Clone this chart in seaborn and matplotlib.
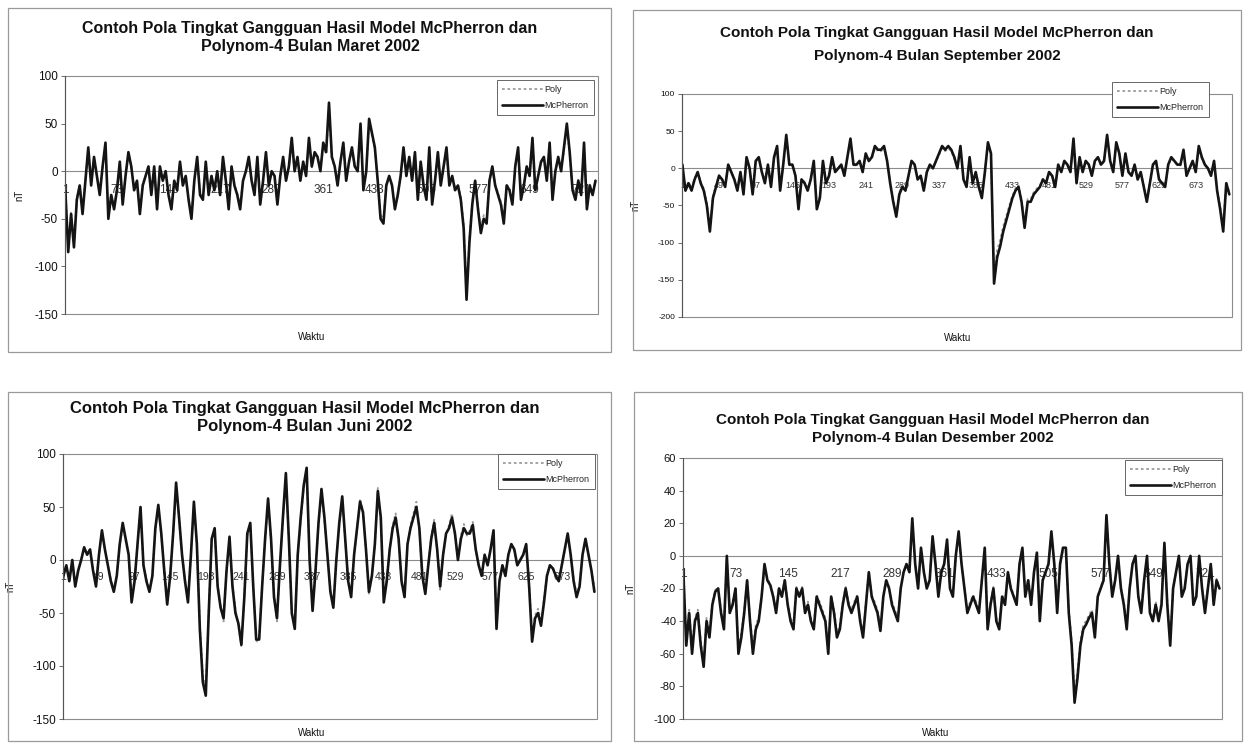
import matplotlib
matplotlib.use('Agg')
import matplotlib.pyplot as plt
from matplotlib.patches import Rectangle
import numpy as np
import pandas as pd
import seaborn as sns

W, H = 1247, 748
step = 4  # one reading every 4 hours, taken off the scanned charts

# ---- Maret 2002 (744 hours) ----
maret_mcpherron = [
    -20, -85, -45, -80, -30, -15, -45, -10, 25, -15,
    15, -5, -25, 5, 30, -50, -25, -40, -20, 10,
    -35, -5, 20, 5, -20, -10, -45, -15, -5, 5,
    -25, 5, -40, 5, -10, 0, -25, -40, -10, -20,
    10, -15, -5, -30, -50, -10, 15, -25, -30, 10,
    -25, -5, -20, 0, -25, 15, -10, -40, 5, -15,
    -25, -40, -10, 0, 15, -10, -25, 15, -35, -10,
    20, -15, 0, -5, -35, -5, 15, -10, 5, 35,
    0, 15, -10, 10, -5, 35, 5, 20, 15, 0,
    30, 20, 72, 15, 5, -15, 10, 30, -10, 10,
    25, 5, 0, 50, -20, 0, 55, 40, 25, -10,
    -50, -55, -15, -5, -15, -40, -25, -5, 25, -5,
    15, -10, 20, -30, 10, -15, -30, 25, -35, -10,
    20, -15, 5, 25, -15, -5, -20, -15, -30, -60,
    -135, -75, -35, -10, -40, -65, -50, -55, -10, 5,
    -15, -25, -35, -55, -15, -20, -35, 5, 25, -30,
    -15, 5, -5, 35, -20, -5, 10, 15, -10, 30,
    -30, 0, 15, 0, 25, 50, 20, -20, -30, -10,
    -25, 30, -40, -15, -25, -10]
maret_poly = [
    -18, -80, -42, -75, -28, -15, -40, -8, 22, -13,
    14, -5, -22, 5, 27, -45, -24, -38, -18, 9,
    -32, -5, 18, 5, -18, -10, -42, -14, -5, 4,
    -22, 4, -37, 4, -9, 0, -23, -37, -10, -18,
    9, -14, -5, -28, -46, -9, 13, -23, -28, 9,
    -23, -5, -18, 0, -23, 13, -9, -37, 4, -14,
    -23, -37, -9, 0, 13, -9, -23, 13, -32, -9,
    18, -14, 0, -5, -32, -5, 13, -9, 4, 32,
    0, 13, -9, 9, -5, 32, 4, 18, 13, 0,
    27, 18, 66, 13, 4, -14, 9, 27, -9, 9,
    22, 4, 0, 46, -18, 0, 50, 37, 22, -9,
    -46, -50, -14, -5, -14, -37, -23, -5, 22, -5,
    13, -9, 18, -27, 9, -14, -27, 22, -32, -9,
    18, -14, 4, 22, -14, -5, -18, -14, -27, -55,
    -125, -70, -32, -9, -37, -60, -46, -50, -9, 4,
    -14, -23, -32, -50, -14, -18, -32, 4, 22, -27,
    -14, 4, -5, 32, -18, -5, 9, 13, -9, 27,
    -27, 0, 13, 0, 22, 46, 18, -18, -27, -9,
    -23, 27, -37, -14, -23, -9]

# ---- September 2002 (720 hours) ----
sept_mcpherron = [
    5, -30, -20, -30, -15, -5, -20, -30, -50, -85,
    -40, -25, -10, -15, -25, 5, -5, -15, -30, -5,
    -35, 15, 0, -35, 10, 15, -5, -20, 5, -25,
    15, 30, -30, 5, 45, 5, 5, -10, -55, -15,
    -20, -30, -15, 10, -55, -40, 10, -20, -10, 15,
    -5, 0, 5, -10, 15, 40, 5, 5, 10, -5,
    20, 10, 15, 30, 25, 25, 30, 10, -20, -45,
    -65, -35, -25, -30, -10, 10, 5, -15, -10, -30,
    -5, 5, 0, 10, 20, 30, 25, 30, 25, 15,
    0, 30, -15, -25, 15, -20, -5, -25, -40, -5,
    35, 20, -155, -120, -105, -85, -70, -55, -40, -30,
    -25, -45, -80, -45, -45, -35, -30, -25, -15, -20,
    -5, -10, -25, 5, -5, 10, 5, -5, 40, -20,
    15, -5, 10, 5, -10, 10, 15, 5, 10, 45,
    10, -5, 35, 20, -10, 20, -5, -10, 5, -15,
    -5, -25, -45, -20, 5, 10, -15, -20, -25, 5,
    15, 10, 5, 5, 25, -10, 0, 10, -5, 30,
    15, 5, 0, -10, 10, -30, -55, -85, -20, -35]
sept_poly = [
    4, -27, -18, -27, -14, -5, -18, -27, -46, -78,
    -37, -23, -9, -14, -23, 4, -5, -14, -27, -5,
    -32, 13, 0, -32, 9, 13, -5, -18, 4, -23,
    13, 27, -27, 4, 40, 4, 4, -9, -50, -14,
    -18, -27, -14, 9, -50, -37, 9, -18, -9, 13,
    -5, 0, 4, -9, 13, 36, 4, 4, 9, -5,
    18, 9, 13, 27, 23, 23, 27, 9, -18, -41,
    -60, -32, -23, -27, -9, 9, 4, -14, -9, -27,
    -5, 4, 0, 9, 18, 27, 23, 27, 23, 13,
    0, 27, -14, -23, 13, -18, -5, -23, -37, -5,
    32, 18, -142, -110, -96, -78, -64, -50, -37, -27,
    -23, -41, -73, -41, -41, -32, -27, -23, -14, -18,
    -5, -9, -23, 4, -5, 9, 4, -5, 36, -18,
    13, -5, 9, 4, -9, 9, 13, 4, 9, 41,
    9, -5, 32, 18, -9, 18, -5, -9, 4, -14,
    -5, -23, -41, -18, 4, 9, -14, -18, -23, 4,
    13, 9, 4, 4, 23, -9, 0, 9, -5, 27,
    13, 4, 0, -9, 9, -27, -50, -78, -18, -32]

# ---- Juni 2002 (720 hours) ----
juni_mcpherron = [
    -15, -5, -20, 0, -25, -10, 0, 12, 5, 10,
    -10, -25, 5, 28, 10, -5, -20, -30, -15, 15,
    35, 20, 5, -40, -20, 15, 50, -5, -20, -30,
    -15, 30, 52, 25, -10, -42, -15, 25, 73, 40,
    5, -20, -40, 5, 55, 15, -65, -115, -128, -50,
    20, 30, -25, -45, -55, -10, 22, -25, -50, -60,
    -80, -35, 25, 35, -25, -75, -75, -25, 20, 58,
    20, -35, -55, -5, 40, 82, 20, -50, -65, 5,
    40, 70, 87, 0, -48, -10, 35, 67, 40, 5,
    -30, -45, 0, 35, 60, 20, -20, -35, 5, 30,
    55, 45, 10, -30, -15, 15, 65, 40, -40, -20,
    10, 30, 40, 20, -20, -35, 15, 30, 40, 50,
    30, -15, -32, -5, 20, 35, 10, -25, 5, 25,
    30, 40, 25, 0, 20, 30, 25, 25, 33, 10,
    -5, -15, 5, -5, 10, 28, -65, -20, -5, -15,
    5, 15, 10, -5, 0, 5, 15, -25, -77, -55,
    -50, -62, -40, -15, -5, -8, -15, -20, -5, 10,
    25, 5, -20, -35, -25, 5, 20, 5, -10, -30]
juni_poly = [
    -13, -5, -18, 0, -22, -9, 0, 11, 5, 9,
    -9, -22, 5, 26, 9, -5, -18, -27, -14, 14,
    33, 18, 5, -36, -18, 14, 47, -5, -18, -27,
    -14, 28, 50, 23, -9, -38, -14, 23, 70, 37,
    5, -18, -36, 5, 52, 14, -60, -108, -122, -46,
    18, 28, -23, -42, -58, -9, 20, -23, -46, -62,
    -82, -32, 23, 33, -23, -78, -72, -23, 18, 55,
    18, -32, -58, -5, 37, 78, 18, -53, -62, 5,
    37, 67, 84, 0, -45, -9, 33, 64, 37, 5,
    -27, -42, 0, 33, 58, 18, -18, -32, 5, 28,
    58, 47, 9, -33, -14, 14, 68, 37, -37, -18,
    9, 33, 44, 18, -23, -32, 14, 33, 44, 55,
    27, -18, -30, -5, 23, 38, 9, -28, 5, 23,
    33, 44, 23, 0, 23, 34, 23, 28, 36, 9,
    -5, -14, 5, -5, 9, 26, -60, -18, -5, -14,
    5, 14, 9, -5, 0, 5, 14, -23, -72, -52,
    -46, -58, -37, -14, -5, -7, -14, -18, -5, 9,
    23, 5, -18, -32, -23, 5, 18, 5, -9, -27]

# ---- Desember 2002 (744 hours) ----
des_mcpherron = [
    -10, -55, -35, -60, -40, -35, -55, -68, -40, -50,
    -30, -22, -20, -35, -45, 0, -35, -30, -20, -60,
    -50, -35, -15, -40, -60, -45, -40, -25, -5, -15,
    -18, -25, -35, -20, -25, -15, -30, -40, -45, -20,
    -25, -20, -35, -30, -40, -45, -25, -30, -35, -40,
    -60, -25, -35, -50, -45, -30, -20, -30, -35, -30,
    -25, -40, -50, -30, -10, -25, -30, -35, -46, -25,
    -15, -20, -30, -35, -40, -20, -10, -5, -10, 23,
    -5, -20, 5, -10, -20, -15, 12, -5, -25, -10,
    -5, 10, -20, -25, 0, 15, -5, -20, -35, -30,
    -25, -30, -35, -15, 5, -45, -30, -20, -40, -45,
    -25, -30, -10, -20, -25, -30, -5, 5, -25, -15,
    -30, -10, 2, -40, -15, -10, -5, 15, -5, -35,
    -5, 5, 5, -35, -55, -90, -75, -55, -45, -42,
    -38, -35, -50, -25, -20, -15, 25, -5, -25, -15,
    0, -20, -30, -45, -20, -5, 0, -25, -35, -15,
    0, -35, -40, -30, -40, -30, 8, -30, -55, -20,
    -10, 0, -25, -20, -5, 0, -30, -25, 0, -20,
    -35, -20, -5, -30, -15, -20]
des_poly = [
    -10, -50, -33, -56, -38, -33, -52, -64, -38, -47,
    -28, -21, -19, -33, -42, -2, -33, -28, -19, -56,
    -47, -33, -14, -38, -56, -42, -38, -24, -5, -14,
    -17, -24, -33, -19, -24, -14, -28, -38, -42, -19,
    -24, -19, -33, -28, -38, -42, -24, -28, -33, -38,
    -56, -24, -33, -47, -42, -28, -19, -28, -33, -28,
    -24, -38, -47, -28, -10, -24, -28, -33, -43, -24,
    -14, -19, -28, -33, -38, -19, -10, -5, -10, 20,
    -5, -19, 3, -10, -19, -14, 10, -5, -24, -10,
    -5, 8, -19, -24, -2, 13, -5, -19, -33, -28,
    -24, -28, -33, -14, 3, -42, -28, -19, -38, -42,
    -24, -28, -10, -19, -24, -28, -5, 3, -24, -14,
    -28, -10, 0, -38, -14, -10, -5, 13, -5, -33,
    -5, 3, 3, -33, -52, -85, -71, -52, -42, -40,
    -36, -33, -47, -24, -19, -14, 22, -5, -24, -14,
    -2, -19, -28, -42, -19, -5, -2, -24, -33, -14,
    -2, -33, -38, -28, -38, -28, 6, -28, -52, -19,
    -10, -2, -24, -19, -5, -2, -28, -24, -2, -19,
    -33, -19, -5, -28, -14, -19]

title_line1 = 'Contoh Pola Tingkat Gangguan Hasil Model McPherron dan'
bulan = ['Maret', 'September', 'Juni', 'Desember']
n_hours = [744, 720, 720, 744]
label_steps = [72, 48, 48, 72]
ylims = [(-150, 100), (-200, 100), (-150, 100), (-100, 60)]
ysteps = [50, 50, 50, 20]

sns.set_style('white')
plt.rcParams['font.family'] = ['Liberation Sans', 'DejaVu Sans']
plt.rcParams['axes.unicode_minus'] = False


def fig_rect(x0, y0, x1, y1):
    return [x0 / W, 1 - y1 / H, (x1 - x0) / W, (y1 - y0) / H]


fig = plt.figure(figsize=(W / 100, H / 100), dpi=100)

# pixel layout of the four excel charts
chart_boxes = [(8, 8, 611, 352), (633, 10, 1241, 350), (8, 392, 611, 741), (634, 392, 1242, 741)]
plot_boxes = [(65, 76, 598, 314), (682, 94, 1232, 317), (63, 454, 597, 719), (683, 458, 1222, 719)]
title_xy = [(310, 29, 47), (937, 33, 56), (305, 409, 427), (933, 420, 438)]
title_fs = [11.5, 11, 12, 11]
legend_xy = [(594, 80), (1209, 82), (595, 454), (1222, 460)]
waktu_xy = [(312, 337), (958, 338), (312, 733), (936, 733)]
nt_x = [-0.077, -0.076, -0.09, -0.089]
ytick_fs = [8.5, 6, 8.5, 8]
xtick_fs = [8.5, 6.5, 7.5, 8.5]

series = [(maret_mcpherron, maret_poly), (sept_mcpherron, sept_poly),
          (juni_mcpherron, juni_poly), (des_mcpherron, des_poly)]

for k in range(4):
    mc, poly = series[k]
    # chart border
    fig.add_artist(Rectangle((chart_boxes[k][0] / W, 1 - chart_boxes[k][3] / H),
                             (chart_boxes[k][2] - chart_boxes[k][0]) / W,
                             (chart_boxes[k][3] - chart_boxes[k][1]) / H,
                             transform=fig.transFigure, fill=False, ec='#9a9a9a', lw=0.9))
    tx, ty1, ty2 = title_xy[k]
    fig.text(tx / W, 1 - ty1 / H, title_line1, ha='center', va='center',
             fontsize=title_fs[k], fontweight='bold', color='#111111')
    fig.text(tx / W, 1 - ty2 / H, f'Polynom-4 Bulan {bulan[k]} 2002', ha='center', va='center',
             fontsize=title_fs[k], fontweight='bold', color='#111111')

    ax = fig.add_axes(fig_rect(*plot_boxes[k]))
    df = pd.DataFrame({'jam': 1 + step * np.arange(len(mc)), 'Poly': poly, 'McPherron': mc})
    sns.lineplot(data=df, x='jam', y='Poly', ax=ax, color='#9c9c9c', linewidth=1.3,
                 linestyle=(0, (1.5, 1.5)), label='Poly')
    sns.lineplot(data=df, x='jam', y='McPherron', ax=ax, color='#141414', linewidth=1.9,
                 label='McPherron')

    ax.set_xlim(0.5, n_hours[k] + 0.5)
    ax.set_ylim(*ylims[k])
    ax.set_yticks(np.arange(ylims[k][0], ylims[k][1] + 1, ysteps[k]))
    xt = np.arange(1, n_hours[k] + 1, label_steps[k])
    ax.set_xticks(xt)
    ax.set_xticklabels([str(v) for v in xt])
    ax.set_axisbelow(True)

    for s in ['top', 'right']:
        ax.spines[s].set_visible(False)
    ax.spines['bottom'].set_position(('data', 0))
    ax.spines['bottom'].set_color('#8c8c8c')
    ax.spines['bottom'].set_linewidth(0.8)
    ax.spines['bottom'].set_zorder(1)
    ax.spines['left'].set_color('#555555')
    ax.spines['left'].set_linewidth(0.8)
    ax.add_patch(Rectangle((0, 0), 1, 1, transform=ax.transAxes, fill=False,
                           ec='#8c8c8c', lw=0.8, zorder=0.5, clip_on=False))

    ax.tick_params(axis='x', length=2, width=0.6, pad=7, labelsize=xtick_fs[k],
                   color='#8c8c8c', labelcolor='#333333')
    ax.tick_params(axis='y', length=3, width=0.6, pad=2, labelsize=ytick_fs[k],
                   direction='out', color='#555555', labelcolor='#111111', left=True)

    ax.set_xlabel('')
    ax.set_ylabel('nT', fontsize=7, color='#111111')
    ax.yaxis.set_label_coords(nt_x[k], 0.5)
    fig.text(waktu_xy[k][0] / W, 1 - waktu_xy[k][1] / H, 'Waktu', ha='center', va='center',
             fontsize=7, color='#111111')

    h, l = ax.get_legend_handles_labels()
    leg = ax.legend(h, l, loc='upper right', bbox_to_anchor=(legend_xy[k][0] / W, 1 - legend_xy[k][1] / H),
                    bbox_transform=fig.transFigure, borderaxespad=0, fontsize=6.5, frameon=True,
                    fancybox=False, framealpha=1, edgecolor='#666666', handlelength=4.5,
                    handletextpad=0.2, labelspacing=0.7, borderpad=0.6)
    leg.get_frame().set_linewidth(0.7)

fig.savefig('out.png', dpi=100)
